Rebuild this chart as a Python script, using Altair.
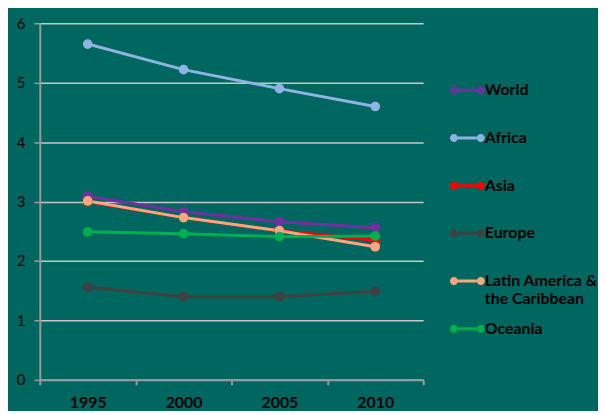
import altair as alt
import pandas as pd

years = ["1995", "2000", "2005", "2010"]
regions = ["World", "Africa", "Asia", "Europe", "Latin America & the Caribbean", "Oceania"]
world = [3.09, 2.83, 2.66, 2.56]
africa = [5.65, 5.22, 4.90, 4.60]
asia = [3.00, 2.73, 2.51, 2.35]
europe = [1.56, 1.40, 1.40, 1.49]
latin = [3.01, 2.73, 2.51, 2.24]
oceania = [2.49, 2.46, 2.41, 2.42]
colors = ["#7030A0", "#8DB4E2", "#FF0000", "#404040", "#F9A77E", "#00B050"]

series = [world, africa, asia, europe, latin, oceania]
rows = []
for name, vals in zip(regions, series):
    for yr, v in zip(years, vals):
        rows.append({"year": yr, "value": v, "region": name})
df = pd.DataFrame(rows)

# separate (differently ordered) domain for the line strokes so that its
# disabled legend is not merged with the point legend
color_of = dict(zip(regions, colors))
stroke_domain = sorted(regions)
stroke_range = [color_of[r] for r in stroke_domain]

FONT = "Lato"

legend_path = (
    "M-0.7,-0.11L0.7,-0.11L0.7,0.11L-0.7,0.11Z "
    "M-0.7,0A0.3,0.3,0,1,1,-1.3,0A0.3,0.3,0,1,1,-0.7,0Z "
    "M1.3,0A0.3,0.3,0,1,1,0.7,0A0.3,0.3,0,1,1,1.3,0Z"
)

x_enc = alt.X(
    "year:O",
    bandPosition=0.5,
    scale=alt.Scale(type="band", domain=years, paddingInner=0, paddingOuter=0),
    axis=alt.Axis(
        title=None, labelAngle=0, tickBand="extent", grid=False,
        domainColor="#9a9a9a", domainWidth=2, tickColor="#9a9a9a", tickWidth=2,
        tickSize=5, labelFontSize=16, labelColor="#000000", labelFont=FONT,
        labelPadding=10, labelFontWeight="bold",
    ),
)
y_enc = alt.Y(
    "value:Q",
    scale=alt.Scale(domain=[0, 6], nice=False),
    axis=alt.Axis(
        title=None, values=[0, 1, 2, 3, 4, 5, 6], grid=True,
        gridColor="#c8c8c8", gridWidth=1.5, domainColor="#9a9a9a", domainWidth=2,
        tickColor="#9a9a9a", tickWidth=1.5, tickSize=6, labelFontSize=15,
        labelColor="#000000", labelFont=FONT, labelPadding=9,
    ),
)

lines = alt.Chart(df).mark_line(strokeWidth=3).encode(
    x=x_enc, y=y_enc,
    stroke=alt.Stroke("region:N", scale=alt.Scale(domain=stroke_domain, range=stroke_range), legend=None),
)

points = alt.Chart(df).mark_point(filled=True, size=95, opacity=1).encode(
    x=x_enc, y=y_enc,
    color=alt.Color(
        "region:N", scale=alt.Scale(domain=regions, range=colors),
        legend=alt.Legend(
            title=None, orient="none", legendX=417, legendY=54,
            symbolType=legend_path, symbolSize=729, symbolStrokeWidth=0,
            symbolOpacity=1,
            labelFontSize=16, labelFont=FONT, labelColor="#000000",
            labelFontWeight="bold",
            labelBaseline="middle", labelOffset=4, labelLimit=200,
            labelExpr="datum.label == 'Latin America & the Caribbean' ? ['Latin America &', 'the Caribbean'] : [datum.label, '']",
            rowPadding=8, padding=0,
        ),
    ),
)

chart = (
    alt.layer(lines, points)
    .properties(
        width=386, height=359,
        autosize=alt.AutoSizeParams(type="none"),
        padding={"left": 32, "top": 14, "right": 176, "bottom": 30},
        background="#006660",
    )
    .configure_view(stroke=None)
    .configure_text(lineHeight=20)
)

chart.save("out.html", embed_options={"renderer": "svg", "actions": False})
